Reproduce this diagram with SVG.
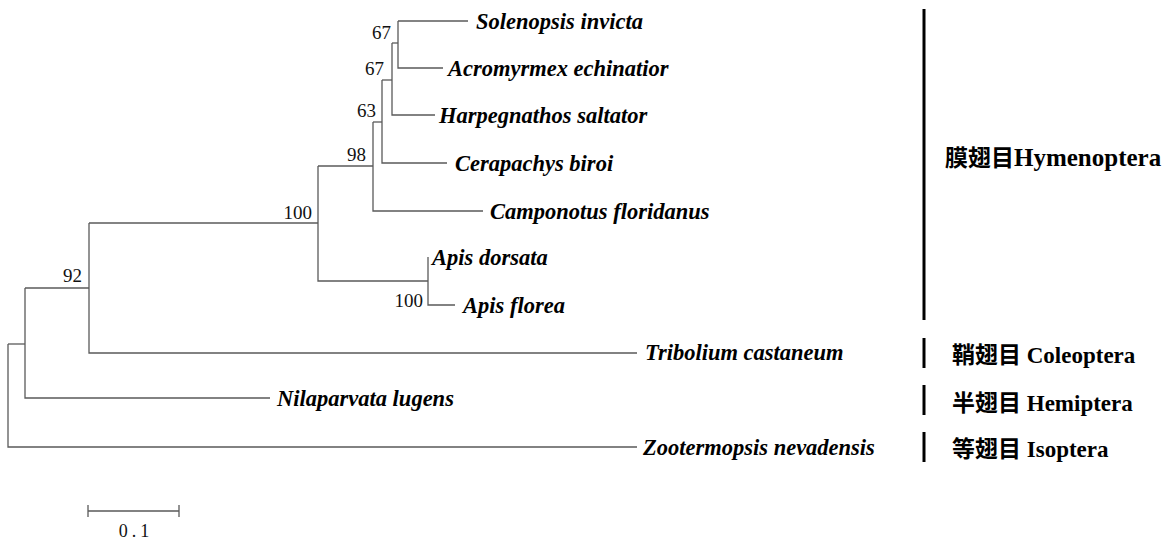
<svg xmlns="http://www.w3.org/2000/svg" width="1172" height="539" viewBox="0 0 1172 539">
<style>
.br{fill:none;stroke:#5a5a5a;stroke-width:1.3}
.bar{stroke:#000;stroke-width:3}
.sp{font-family:"Liberation Serif","Times New Roman",serif;font-style:italic;font-weight:bold;font-size:22.5px;fill:#000}
.bs{font-family:"Liberation Serif","Times New Roman",serif;font-size:19px;fill:#111;text-anchor:end}
.ord{font-family:"Liberation Serif","Noto Sans CJK SC",serif;font-weight:bold;font-size:23px;fill:#000}
</style>
<rect width="1172" height="539" fill="#fff"/>
<g id="connectors">
<path class="br" d="M8,344V447H637"/>
<path class="br" d="M8,344H25"/>
<path class="br" d="M25,288V398H270"/>
<path class="br" d="M25,288H89"/>
<path class="br" d="M89,223V353H637"/>
<path class="br" d="M89,223H318"/>
<path class="br" d="M318,166V281H428"/>
<path class="br" d="M318,166H373"/>
<path class="br" d="M428,257V305H455"/>
<path class="br" d="M373,122V211H483"/>
<path class="br" d="M373,122H382"/>
<path class="br" d="M382,80V163H447"/>
<path class="br" d="M382,80H392"/>
<path class="br" d="M392,43V115H435"/>
<path class="br" d="M392,43H398"/>
<path class="br" d="M398,21H468"/>
<path class="br" d="M398,21V68H443"/>
</g>
<g id="bootstrap">
<text class="bs" x="391" y="39">67</text>
<text class="bs" x="384" y="75">67</text>
<text class="bs" x="376" y="117">63</text>
<text class="bs" x="366" y="161">98</text>
<text class="bs" x="312" y="219">100</text>
<text class="bs" x="82" y="282">92</text>
<text class="bs" x="423" y="307">100</text>
</g>
<g id="taxa">
<text id="solenopsis" class="sp" x="476" y="29">Solenopsis invicta</text>
<text id="acromyrmex" class="sp" x="448" y="76">Acromyrmex echinatior</text>
<text id="harpegnathos" class="sp" x="439" y="123">Harpegnathos saltator</text>
<text id="cerapachys" class="sp" x="455" y="171">Cerapachys biroi</text>
<text id="camponotus" class="sp" x="490" y="219">Camponotus floridanus</text>
<text id="apis-dorsata" class="sp" x="432" y="265">Apis dorsata</text>
<text id="apis-florea" class="sp" x="463" y="313">Apis florea</text>
<text id="tribolium" class="sp" x="645" y="360">Tribolium castaneum</text>
<text id="nilaparvata" class="sp" x="277" y="406">Nilaparvata lugens</text>
<text id="zootermopsis" class="sp" x="643" y="455">Zootermopsis nevadensis</text>
</g>
<g id="orders">
<g id="hymenoptera"><line class="bar" x1="924" y1="9" x2="924" y2="320"/><text class="ord" x="945" y="166">膜翅目<tspan font-size="25">Hymenoptera</tspan></text></g>
<g id="coleoptera"><line class="bar" x1="924" y1="338" x2="924" y2="368"/><text class="ord" x="952" y="363">鞘翅目 Coleoptera</text></g>
<g id="hemiptera"><line class="bar" x1="924" y1="385" x2="924" y2="415"/><text class="ord" x="952" y="411">半翅目 Hemiptera</text></g>
<g id="isoptera"><line class="bar" x1="924" y1="432" x2="924" y2="462"/><text class="ord" x="952" y="457">等翅目 Isoptera</text></g>
</g>
<g id="scalebar">
<path class="br" d="M88,511H179M88,505V517M179,505V517"/>
<text x="136" y="537" text-anchor="middle" font-family="Liberation Serif, serif" font-size="18" letter-spacing="4" fill="#111">0.1</text>
</g>
</svg>
